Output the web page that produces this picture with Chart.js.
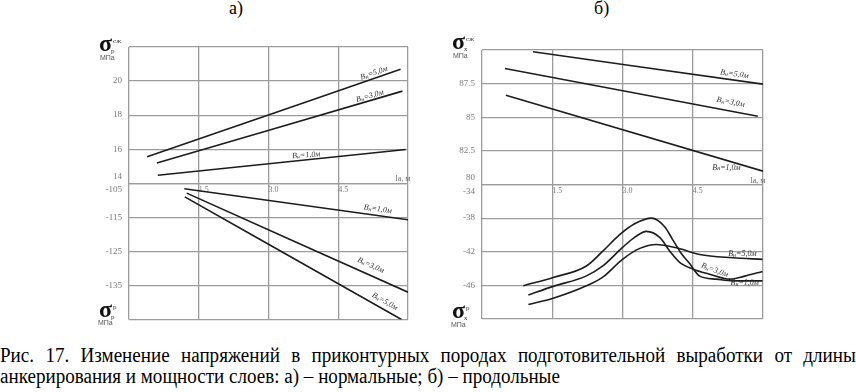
<!DOCTYPE html>
<html>
<head>
<meta charset="utf-8">
<script src="https://cdn.jsdelivr.net/npm/chart.js@4.4.1/dist/chart.umd.min.js"></script>
<style>
  body { margin: 0; background: #fff; width: 856px; height: 392px; overflow: hidden; position: relative; color: #000; }
  canvas { position: absolute; top: 0; }
  #panelA { left: 0; }
  #panelB { left: 430px; }
  .ttl { position: absolute; top: -2px; font-family: "Liberation Serif", serif; font-size: 18px; }
  .cap { position: absolute; left: 0; width: 898px; font-family: "Liberation Serif", serif; font-size: 20px; line-height: 21px; white-space: nowrap; transform: scaleX(0.953); transform-origin: 0 0; }
</style>
</head>
<body>
<div class="ttl" style="left:229px">а)</div>
<div class="ttl" style="left:594px">б)</div>
<canvas id="panelA" width="430" height="340"></canvas>
<canvas id="panelB" width="426" height="340"></canvas>
<div class="cap" style="top:345px; text-align:justify; text-align-last:justify; white-space:normal">Рис. 17. Изменение напряжений в приконтурных породах подготовительной выработки от длины</div>
<div class="cap" style="top:366px">анкерирования и мощности слоев: а) – нормальные; б) – продольные</div>
<script>
// anchoring length axis, m
const lenMin = 0, lenMax = 6, lenStep = 1.5;
const lenLabels = ['', '1.5', '3.0', '4.5', ''];

// а) normal stresses, compressive part (MPa)
const aCompLen5 = [0.39, 5.84], aComp5 = [15.55, 20.69];
const aCompLen3 = [0.60, 5.88], aComp3 = [15.19, 19.41];
const aCompLen1 = [0.62, 5.95], aComp1 = [14.47, 15.98];
// а) normal stresses, tensile part (MPa)
const aTensLen1 = [1.19, 6.00], aTens1 = [-106.6, -115.7];
const aTensLen3 = [1.24, 6.00], aTens3 = [-107.9, -137.0];
const aTensLen5 = [1.20, 5.86], aTens5 = [-109.0, -145.0];

// б) longitudinal stresses, compressive part (MPa)
const bCompLen5 = [1.09, 6.00], bComp5 = [89.87, 87.46];
const bCompLen3 = [0.49, 5.89], bComp3 = [88.63, 85.07];
const bCompLen1 = [0.51, 6.00], bComp1 = [86.64, 80.99];
// б) longitudinal stresses, tensile part (MPa)
const bTensLen1 = [0.88, 1.52, 2.23, 2.58, 2.94, 3.26, 3.62, 3.90, 4.07, 4.24, 4.43, 4.65, 5.00, 5.35, 5.99];
const bTens1    = [-46.05, -45.06, -43.69, -41.93, -39.96, -38.67, -38.0, -39.02, -40.55, -42.08, -43.38, -44.9, -45.26, -45.46, -45.46];
const bTensLen3 = [0.99, 1.52, 2.23, 2.58, 3.00, 3.28, 3.51, 3.80, 4.01, 4.22, 4.51, 4.86, 5.29, 5.61, 5.99];
const bTens3    = [-47.14, -46.12, -44.87, -43.69, -41.49, -40.2, -39.58, -40.32, -41.93, -43.26, -44.08, -44.67, -45.26, -44.9, -44.35];
const bTensLen5 = [0.99, 1.52, 2.23, 2.58, 3.00, 3.37, 3.72, 4.15, 4.65, 5.35, 5.99];
const bTens5    = [-48.28, -47.53, -46.05, -45.02, -42.9, -41.6, -41.14, -41.53, -42.32, -42.71, -42.91];

// axis ranges [min, max, step]
const aCompRange = [14, 22, 2], aTensRange = [-145, -105, 10];
const bCompRange = [80, 90, 2.5], bTensRange = [-50, -34, 4];

// curve captions (layer thickness Вн), anchored in data units
const aNotes = [
  { x: 5.27, y: 20.47, axis: 'yUp', angle: -19, text: '=5,0м' },
  { x: 5.18, y: 19.12, axis: 'yUp', angle: -16, text: '=3,0м' },
  { x: 3.81, y: 15.65, axis: 'yUp', angle: -4, text: '=1,0м' },
  { x: 5.35, y: -112.6, axis: 'yLow', angle: 8, text: '=1,0м' },
  { x: 5.20, y: -129.1, axis: 'yLow', angle: 24, text: '=3,0м' },
  { x: 5.50, y: -139.7, axis: 'yLow', angle: 30, text: '=5,0м' }
];
const bNotes = [
  { x: 5.39, y: 88.21, axis: 'yUp', angle: 8, text: '=5,0м' },
  { x: 5.31, y: 86.12, axis: 'yUp', angle: 11, text: '=3,0м' },
  { x: 5.22, y: 81.27, axis: 'yUp', angle: 0, text: '=1,0м' },
  { x: 5.56, y: -42.2, axis: 'yLow', angle: 0, text: '=5,0м' },
  { x: 4.97, y: -44.2, axis: 'yLow', angle: 20, text: '=3,0м' },
  { x: 5.61, y: -45.73, axis: 'yLow', angle: 0, text: '=1,0м' }
];

const lineColor = '#1c1c1c';
const gridColor = '#9c9c9c';
const tickColor = '#7a7a7a';

function pts(xs, ys) {
  return xs.map((x, i) => ({ x: x, y: ys[i] }));
}

function series(xs, ys, axis) {
  return {
    data: pts(xs, ys),
    yAxisID: axis,
    borderColor: lineColor,
    borderWidth: 1.6,
    pointRadius: 0,
    fill: false,
    tension: 0.4,
    cubicInterpolationMode: 'monotone'
  };
}

function drawSigma(ctx, x, base, sup, sub) {
  ctx.font = 'bold 24px "Liberation Serif"';
  ctx.textAlign = 'left';
  ctx.textBaseline = 'alphabetic';
  ctx.fillStyle = '#111';
  ctx.fillText('σ', x, base);
  const w = ctx.measureText('σ').width;
  ctx.font = '7px "Liberation Serif"';
  ctx.fillStyle = '#333';
  ctx.fillText(sup, x + w + 1, base - 8);
  ctx.fillText(sub, x + w - 1, base + 2);
}

const decor = {
  id: 'decor',
  afterDraw(chart, args, opts) {
    const { ctx, chartArea: a, scales } = chart;
    ctx.save();

    // stress symbols on the y axis
    drawSigma(ctx, a.left - 30, a.top + opts.topBase, 'сж', opts.sub);
    drawSigma(ctx, a.left - 30, a.bottom + opts.botBase, 'р', opts.sub);
    ctx.font = '7px "Liberation Sans"';
    ctx.fillStyle = '#555';
    ctx.textBaseline = 'middle';
    ctx.fillText('МПа', a.left - 29, a.top + opts.topUnit);
    ctx.fillText('МПа', a.left - 31, a.bottom + opts.botUnit);

    // length axis name
    const yMid = scales.yUp.getPixelForValue(scales.yUp.min);
    ctx.font = '8px "Liberation Serif"';
    ctx.fillStyle = '#666';
    ctx.textAlign = 'center';
    ctx.fillText('lа, м', a.right - 5, yMid - 4);

    // curve captions
    opts.notes.forEach(n => {
      const px = scales.x.getPixelForValue(n.x);
      const py = scales[n.axis].getPixelForValue(n.y);
      ctx.save();
      ctx.translate(px, py);
      ctx.rotate(n.angle * Math.PI / 180);
      ctx.fillStyle = '#333';
      ctx.textBaseline = 'middle';
      ctx.textAlign = 'left';
      ctx.font = 'italic 8px "Liberation Serif"';
      const w1 = ctx.measureText('В').width;
      ctx.font = 'italic 6px "Liberation Serif"';
      const w2 = ctx.measureText('н').width;
      ctx.font = 'italic 8px "Liberation Serif"';
      const w3 = ctx.measureText(n.text).width;
      const x0 = -(w1 + w2 + w3) / 2;
      ctx.fillText('В', x0, 0);
      ctx.font = 'italic 6px "Liberation Serif"';
      ctx.fillText('н', x0 + w1, 1.5);
      ctx.font = 'italic 8px "Liberation Serif"';
      ctx.fillText(n.text, x0 + w1 + w2, 0);
      ctx.restore();
    });
    ctx.restore();
  }
};

function yAxis(range, upper) {
  return {
    type: 'linear',
    position: 'left',
    stack: 'stress',
    stackWeight: 1,
    weight: upper ? 1 : 0,
    min: range[0],
    max: range[1],
    afterFit: s => { s.width = 30; },
    ticks: {
      stepSize: range[2],
      autoSkip: false,
      color: tickColor,
      padding: 7,
      font: { family: 'Liberation Serif', size: 9, lineHeight: 1.5 },
      callback: (v, i, t) => {
        if (upper) {
          if (i === t.length - 1) return '';
          return i === 0 ? [String(v), ''] : String(v);
        }
        if (i === 0) return '';
        return i === t.length - 1 ? ['', String(v)] : String(v);
      }
    },
    grid: { color: gridColor, lineWidth: 1.2, drawTicks: false },
    border: { display: false }
  };
}

function panel(canvas, datasets, comp, tens, notes, pad, sym) {
  return new Chart(canvas, {
    type: 'line',
    data: { datasets: datasets },
    options: {
      responsive: false,
      animation: false,
      layout: { padding: pad },
      plugins: {
        legend: { display: false },
        tooltip: { enabled: false },
        decor: Object.assign({ notes: notes }, sym)
      },
      scales: {
        x: {
          type: 'linear',
          position: { yUp: comp[0] },
          min: lenMin,
          max: lenMax,
          ticks: {
            stepSize: lenStep,
            autoSkip: false,
            align: 'start',
            padding: 2,
            color: tickColor,
            font: { family: 'Liberation Serif', size: 8 },
            callback: (v, i) => lenLabels[i]
          },
          grid: { color: gridColor, lineWidth: 1.3, drawTicks: false },
          border: { display: false }
        },
        yLow: yAxis(tens, false),
        yUp: yAxis(comp, true)
      }
    },
    plugins: [decor]
  });
}

panel(document.getElementById('panelA'), [
  series(aCompLen5, aComp5, 'yUp'),
  series(aCompLen3, aComp3, 'yUp'),
  series(aCompLen1, aComp1, 'yUp'),
  series(aTensLen1, aTens1, 'yLow'),
  series(aTensLen3, aTens3, 'yLow'),
  series(aTensLen5, aTens5, 'yLow')
], aCompRange, aTensRange, aNotes,
  { left: 99, top: 47, right: 22, bottom: 20 },
  { sub: 'р', topBase: 4, botBase: -3, topUnit: 11, botUnit: 4 });

panel(document.getElementById('panelB'), [
  series(bCompLen5, bComp5, 'yUp'),
  series(bCompLen3, bComp3, 'yUp'),
  series(bCompLen1, bComp1, 'yUp'),
  series(bTensLen1, bTens1, 'yLow'),
  series(bTensLen3, bTens3, 'yLow'),
  series(bTensLen5, bTens5, 'yLow')
], bCompRange, bTensRange, bNotes,
  { left: 22, top: 50, right: 93, bottom: 21 },
  { sub: 'x', topBase: -1, botBase: -1, topUnit: 6, botUnit: 6 });
</script>
</body>
</html>
